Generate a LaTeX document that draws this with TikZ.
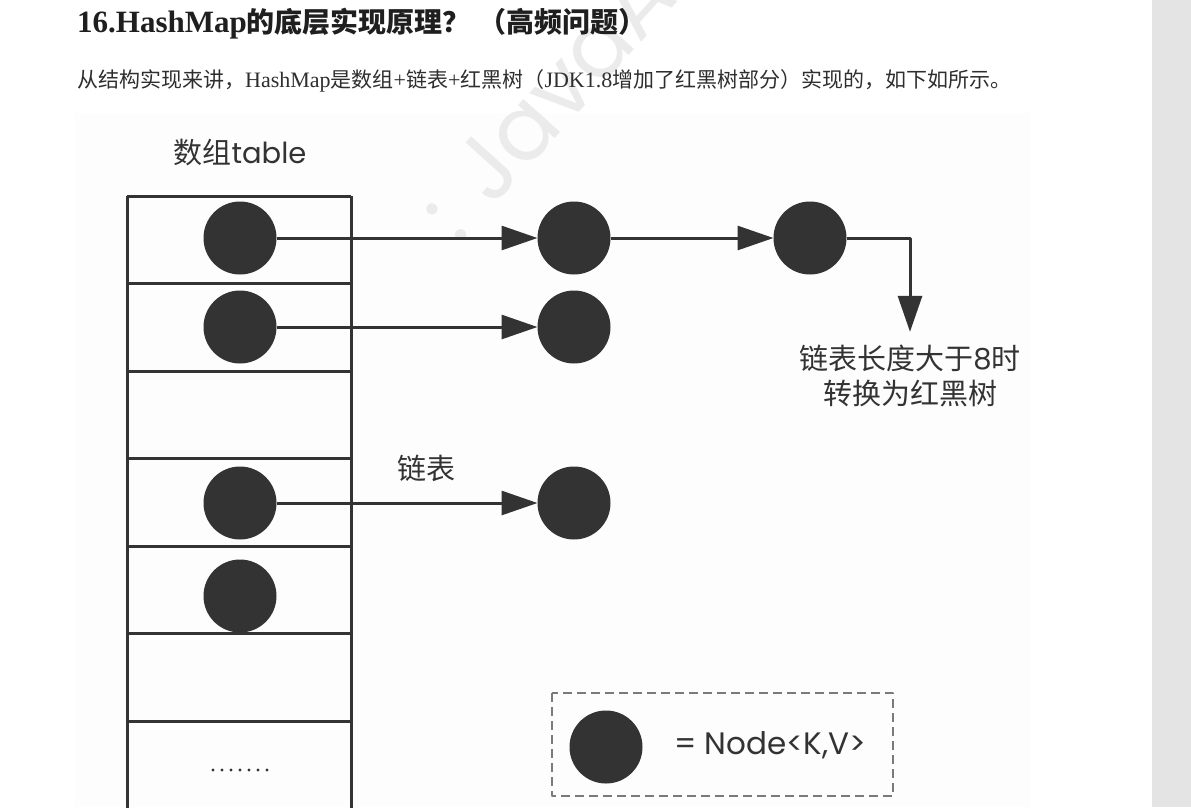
\documentclass[tikz,border=0pt]{standalone}
\usepackage{fontspec}
\setmainfont{Liberation Serif}
\newfontfamily\cjk{Noto Sans CJK SC}
\newfontfamily\geo{Poppins}
\usetikzlibrary{arrows.meta}
\definecolor{ink}{HTML}{333333}
\definecolor{dashgray}{HTML}{7A7A7A}
\definecolor{side}{HTML}{E4E4E4}
\definecolor{panel}{HTML}{FDFDFD}
\newcommand\zh[1]{{\cjk\fontsize{28}{28}\selectfont #1}}
\newcommand\zhs[1]{{\cjk\fontsize{21}{21}\selectfont #1}}
\begin{document}
\begin{tikzpicture}[x=1pt, y=-1pt, line join=round,
  dot/.style={circle, fill=ink, minimum size=73pt, inner sep=0pt, outer sep=0pt},
  link/.style={draw=ink, line width=3pt, -{Triangle[length=36pt,width=24pt]}},
  cell/.style={draw=ink, line width=3pt},
  lbl/.style={text=ink, inner sep=0pt, font=\cjk\fontsize{29}{35}\selectfont},
  wm/.style={text=black!8, inner sep=0pt, font=\geo\fontsize{90}{90}\selectfont},
  keybox/.style={draw=dashgray, line width=2.5pt, dash pattern=on 9pt off 5pt}]
  \useasboundingbox (0,0) rectangle (1191,807);
  \fill[side] (1152,0) rectangle (1191,807);
  \fill[panel] (75,113) rectangle (1031,807);
  % watermark
  \node[wm, rotate=48, anchor=base west] (wm) at (458,246) {: JavaA};
  % heading
  \node[anchor=base west, inner sep=0pt, text=black!88, font=\bfseries\fontsize{31}{31}\selectfont] (title) at (77,32)
    {16.HashMap\zh{的底层实现原理？\hspace{8pt}（高频问题）}};
  \node[anchor=base west, inner sep=0pt, text=black!82, font=\fontsize{22}{22}\selectfont] (intro) at (77,87)
    {\zhs{从结构实现来讲，}HashMap\zhs{是数组}+\zhs{链表}+\zhs{红黑树（}JDK1.8\zhs{增加了红黑树部分）实现的，如下如所示。}};
  % table
  \node[lbl] (tab) at (240,153) {数组{\geo table}};
  \foreach \y in {196,283.5,371,458.5,546,633.5,721} \draw[cell] (127,\y) -- (351,\y);
  \draw[cell] (127,196) -- (127,820) (351,196) -- (351,820);
  \foreach \i in {0,...,6} \fill[ink] (213+9*\i,770) circle (1.6);
  % nodes
  \node[dot] (a1) at (240,238) {};
  \node[dot] (a2) at (240,327) {};
  \node[dot] (a4) at (240,503) {};
  \node[dot] (a5) at (240,596) {};
  \node[dot] (b1) at (574,238) {};
  \node[dot] (b2) at (810,238) {};
  \node[dot] (c1) at (574,327) {};
  \node[dot] (d1) at (574,503) {};
  \draw[link] (a1) -- (b1);
  \draw[link] (b1) -- (b2);
  \draw[link] (a2) -- (c1);
  \draw[link] (a4) -- (d1);
  \node[lbl] (chain) at (426,468) {链表};
  \node[lbl, align=center] (rbt) at (910,376) {链表长度大于{\geo 8}时\\转换为红黑树};
  \draw[link] (b2) -| ([yshift=13pt]rbt.north);
  % legend
  \draw[keybox] (552,693) rectangle (893,796);
  \node[dot] (key) at (606,747) {};
  \node[lbl, anchor=west, font=\geo\fontsize{31}{35}\selectfont] (keytxt) at (674,745) {= Node<K,V>};
\end{tikzpicture}
\end{document}
